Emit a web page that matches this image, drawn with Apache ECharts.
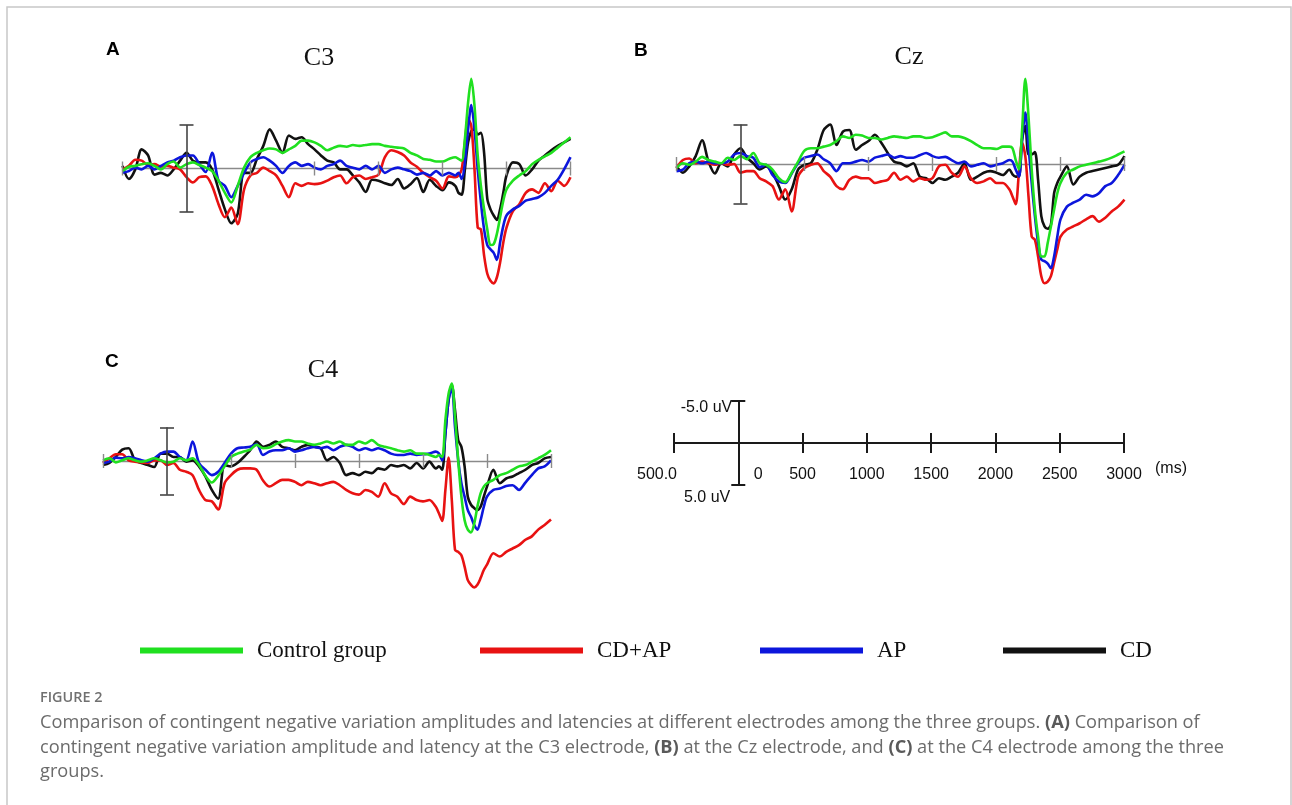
<!DOCTYPE html>
<html>
<head>
<meta charset="utf-8">
<title>CNV comparison</title>
<script src="https://cdn.jsdelivr.net/npm/echarts@6/dist/echarts.min.js"></script>
<style>
  html, body { margin: 0; padding: 0; background: #fff; }
  #main { width: 1292px; height: 805px; }
</style>
</head>
<body>
<div id="main"></div>
<script>
// time axis (ms), denser around the response spike
const times = [
  -500, -450, -400, -350, -300, -250, -200, -150, -100, -50,
  0, 50, 100, 150, 200, 250, 300, 350, 400, 450,
  500, 550, 600, 650, 700, 750, 800, 850, 900, 950,
  1000, 1050, 1100, 1150, 1200, 1250, 1300, 1350, 1400, 1450,
  1500, 1550, 1600, 1650, 1700, 1750, 1800, 1850, 1900, 1950,
  2000, 2050, 2100, 2125, 2150, 2175, 2200, 2225, 2250, 2275,
  2300, 2325, 2350, 2375, 2400, 2425, 2450, 2475, 2500, 2550,
  2600, 2650, 2700, 2750, 2800, 2850, 2900, 2950, 3000
];

const groupNames = ['Control group', 'CD+AP', 'AP', 'CD'];
const groupColors = ['#20e020', '#e81212', '#0c16dc', '#111111'];

// amplitudes in uV (negative = up)
const c3Control = [
  0.3, -0.2, -0.3, -0.5, -0.6, -0.3, 0.1, -0.5, -0.8, -0.1,
  -0.5, -0.7, -0.4, -0.1, 0.3, 1.4, 2.8, 3.9, 2.0, -0.1,
  -1.3, -1.8, -2.1, -2.3, -2.2, -1.8, -2.2, -2.6, -3.2, -3.2,
  -3.0, -2.6, -2.1, -2.4, -2.6, -2.5, -2.7, -2.6, -2.7, -2.8,
  -2.8, -2.6, -2.5, -2.4, -2.3, -1.8, -1.5, -1.1, -1.0, -0.8,
  -0.8, -1.1, -1.3, -1.1, -0.9, -3.4, -7.6, -10.3, -7.2, -1.5,
  2.0, 4.7, 7.0, 8.8, 8.7, 7.5, 5.6, 3.7, 2.4, 1.4,
  0.8, 0.3, -0.5, -1.0, -1.4, -1.8, -2.4, -3.0, -3.6
];
const c3CdAp = [
  0.1, -0.3, -1.0, -0.9, -0.4, -0.5, -0.2, -0.3, -0.1, 0.1,
  1.0, 1.6, 1.0, 0.9, 2.0, 4.1, 5.6, 4.5, 6.4, 2.4,
  0.8, 0.5, -0.1, 0.3, 0.8, 2.0, 3.3, 1.7, 2.0, 1.7,
  1.8, 1.7, 1.4, 1.0, 0.8, 1.7, 1.0, 0.8, 1.2, 1.0,
  0.7, -1.3, -2.1, -1.9, -1.5, -0.7, -0.2, 0.5, 1.0, 1.4,
  2.3, 0.9, 1.0, 0.8, 0.1, -3.0, -5.7, -4.9, 0.1, 6.8,
  7.0, 10.0, 12.1, 12.9, 13.2, 12.5, 10.8, 8.5, 6.8, 4.9,
  4.1, 2.8, 2.4, 2.8, 1.7, 2.6, 1.4, 2.0, 1.0
];
const c3Ap = [
  0.5, 0.3, -0.1, 0.1, -0.3, 0.1, -0.3, -0.7, -0.9, -1.3,
  -1.5, -1.5, -0.5, 0.4, -1.8, 1.4, 2.0, 3.3, 2.0, 0.5,
  -0.7, -1.1, -1.3, -0.9, -0.3, 0.5, -0.3, -0.7, -0.3, -0.5,
  -0.1, 0.1, -0.3, -0.5, -0.9, -0.3, -0.1, 0.1, -0.3, 0.1,
  -0.3, 0.5, 0.1, -0.1, 0.1, 0.3, 0.7, 0.5, 0.8, 0.3,
  0.8, 0.5, 0.8, 0.5, 1.2, -0.7, -4.5, -7.3, -4.5, 0.1,
  3.9, 7.0, 8.8, 9.3, 9.7, 10.5, 8.5, 6.6, 5.4, 4.7,
  4.3, 3.7, 3.5, 3.3, 2.8, 2.0, 1.3, 0.1, -1.3
];
const c3Cd = [
  -0.3, 1.2, 0.1, -2.2, -1.5, 0.7, 0.5, 0.8, 0.1, -0.9,
  -1.8, -0.9, -0.7, -0.7, 0.1, 2.4, 4.7, 6.3, 5.2, 0.5,
  0.5, -1.1, -2.6, -4.5, -3.2, -1.8, -3.8, -3.4, -3.6, -2.8,
  -2.2, -1.5, -0.9, -0.7, 0.1, 0.1, 0.8, 1.6, 2.7, 1.3,
  1.4, 1.7, 1.9, 1.2, 2.3, 1.8, 1.1, 2.7, 1.3, 2.0,
  2.5, 1.6, 2.0, 2.8, 3.0, 0.1, -3.0, -4.3, -4.5, -3.9,
  -4.1, -1.8, 3.5, 4.7, 5.4, 5.9, 4.7, 2.8, 0.8, -0.7,
  -0.5, 0.8, 0.1, -0.9, -1.5, -2.1, -2.6, -3.0, -3.4
];

const czControl = [
  0.5, -0.1, 0.1, -0.3, -0.9, -0.5, -0.3, -0.1, -0.8, -0.5,
  -1.0, -0.6, -1.4, -0.1, 0.1, 0.7, 1.8, 2.3, 1.1, -0.3,
  -1.7, -2.0, -2.0, -2.2, -2.4, -2.9, -3.5, -3.3, -3.7, -3.6,
  -3.3, -3.3, -3.1, -3.3, -3.5, -3.4, -3.3, -3.5, -3.5, -3.3,
  -3.4, -3.7, -4.0, -3.5, -3.5, -3.3, -2.9, -2.4, -2.0, -2.0,
  -1.9, -2.2, -2.2, -2.0, -0.5, 0.7, -4.3, -10.8, -6.0, 0.7,
  5.8, 9.2, 11.7, 11.7, 10.0, 7.9, 5.8, 3.7, 2.4, 1.1,
  0.7, 0.3, 0.1, -0.1, -0.3, -0.5, -0.8, -1.2, -1.6
];
const czCdAp = [
  0.5, -0.5, -0.7, -0.1, -0.3, -0.1, 0.1, -0.1, 0.1, 0.0,
  1.1, 0.9, 0.9, 1.8, 2.2, 2.8, 4.5, 3.2, 6.0, 1.6,
  0.5, 0.1, -0.1, 0.9, 1.6, 2.8, 3.2, 2.0, 1.6, 1.8,
  1.8, 2.4, 2.2, 2.0, 1.1, 2.0, 1.6, 2.2, 1.8, 2.0,
  1.8, 0.3, 0.1, 1.1, 1.6, 0.3, 1.8, 2.4, 2.2, 1.8,
  2.4, 2.4, 3.2, 4.1, 5.1, 1.1, -2.7, -1.0, 4.1, 9.2,
  9.6, 11.7, 14.2, 15.1, 14.9, 14.2, 12.5, 10.8, 9.2, 8.3,
  7.9, 7.5, 7.0, 6.6, 7.3, 6.8, 6.0, 5.4, 4.5
];
const czAp = [
  0.9, 0.7, -0.1, -0.3, -0.1, -0.3, -0.1, -0.1, -0.3, -1.2,
  -1.4, -1.0, -0.8, 0.4, 0.1, 1.4, 2.2, 2.4, 1.2, -0.1,
  -0.8, -1.0, -1.2, -0.6, -0.1, 0.9, -0.1, -0.1, -0.3, -0.5,
  -0.3, -0.8, -1.0, -1.2, -0.8, -1.0, -0.8, -0.8, -1.1, -1.4,
  -1.0, -0.8, -0.9, -0.5, -0.1, -0.3, 0.3, 0.1, -0.1, 0.3,
  0.1, -0.1, -0.5, -0.3, 0.7, 1.6, -3.1, -6.5, -2.2, 2.4,
  6.6, 10.0, 12.1, 12.3, 12.6, 13.2, 11.7, 9.2, 7.0, 5.4,
  4.9, 4.5, 3.9, 4.1, 3.7, 2.8, 2.4, 1.4, 0.1
];
const czCd = [
  0.3, 1.1, 0.3, -1.0, -3.0, -0.3, 1.2, -0.1, 0.3, -1.2,
  -2.0, -0.8, -0.1, 0.7, 0.3, 1.1, 2.8, 4.5, 3.2, 0.7,
  0.1, -0.1, -1.8, -4.3, -5.0, -2.4, -4.1, -4.3, -1.8, -2.4,
  -2.9, -3.7, -2.7, -1.4, -0.3, -0.1, 0.3, -0.1, 1.6, 1.8,
  2.4, 1.8, 2.0, 1.6, 1.1, -0.1, 2.0, 1.6, 1.1, 0.9,
  1.1, 1.4, 0.7, 1.3, 1.6, 1.6, -3.1, -4.8, -1.2, -1.2,
  -1.5, 2.0, 6.6, 7.9, 8.2, 7.7, 3.7, 2.4, 1.6, 0.3,
  2.6, 1.6, 1.1, 0.9, 0.7, 0.5, 0.3, 0.1, -1.0
];

const c4Control = [
  -0.1, -0.4, 0.2, -0.1, -0.4, -0.1, 0.1, -0.1, -0.4, -0.1,
  0.2, 0.1, -0.4, -0.1, -0.4, 0.6, 2.2, 3.2, 2.2, 0.8,
  -0.6, -1.1, -1.4, -1.7, -2.4, -1.9, -2.0, -2.5, -2.9, -3.1,
  -2.9, -2.9, -2.6, -2.4, -2.6, -2.9, -2.6, -2.9, -2.4, -2.4,
  -2.9, -2.6, -3.1, -2.4, -2.1, -1.9, -1.6, -1.4, -1.6, -1.1,
  -1.1, -0.9, -0.6, -0.9, -0.6, -6.1, -10.0, -11.5, -6.6, -0.1,
  5.3, 8.8, 10.2, 10.6, 9.3, 6.8, 4.8, 3.8, 3.3, 2.8,
  2.1, 1.8, 1.3, 0.8, 0.6, 0.1, -0.4, -0.9, -1.6
];
const c4CdAp = [
  0.3, -0.4, -1.0, -1.0, -0.1, 0.1, 0.2, 0.3, -0.1, -0.1,
  0.6, 0.3, 1.3, 1.6, 2.1, 4.3, 5.8, 6.0, 7.2, 3.3,
  2.1, 1.3, 1.1, 1.1, 1.3, 2.9, 3.8, 3.3, 2.8, 2.8,
  3.1, 3.6, 3.1, 3.3, 3.6, 3.3, 3.1, 3.6, 4.3, 4.8,
  5.0, 4.3, 4.6, 5.3, 3.3, 4.8, 5.3, 6.4, 5.3, 5.8,
  6.0, 5.8, 6.8, 7.8, 8.9, 4.3, -0.5, 5.8, 13.2, 13.5,
  14.0, 15.7, 17.7, 18.4, 18.8, 18.4, 17.4, 16.2, 15.4, 13.7,
  14.2, 13.5, 13.0, 12.5, 11.7, 11.2, 10.2, 9.5, 8.7
];
const c4Ap = [
  0.3, 0.1, -0.5, -0.4, -0.6, -0.4, -0.1, 0.1, -0.4, -1.1,
  -1.4, -1.4, -0.6, -0.1, -2.9, 0.3, 1.3, 2.1, 1.6, 0.3,
  -1.1, -1.9, -2.0, -2.1, -2.5, -0.9, -1.4, -1.6, -1.6, -1.9,
  -1.4, -1.6, -1.9, -2.1, -1.9, -2.1, -1.6, -2.1, -2.4, -2.1,
  -1.6, -1.9, -1.6, -1.9, -1.6, -1.1, -0.9, -0.9, -1.1, -0.9,
  -1.0, -1.1, -1.4, -1.1, -0.1, -4.1, -9.1, -10.9, -5.1, -0.1,
  3.3, 5.3, 7.3, 8.3, 9.5, 10.2, 8.8, 6.8, 5.3, 4.3,
  4.1, 3.7, 3.6, 4.3, 3.2, 2.1, 1.1, 0.8, -0.1
];
const c4Cd = [
  0.6, 0.3, -0.6, -1.7, -1.9, -0.1, 0.3, 0.6, 0.9, -1.1,
  -1.1, -0.6, -0.6, 0.1, -0.1, 0.8, 2.3, 4.3, 5.6, 0.6,
  0.8, 0.3, -0.6, -1.6, -2.9, -2.1, -2.4, -2.9, -2.1, -1.9,
  -1.6, -2.1, -2.4, -2.1, -1.9, -0.1, -0.6, 0.3, 2.1, 1.8,
  2.1, 1.6, 1.8, 1.1, 1.3, 0.6, 0.8, 0.6, 1.1, 0.3,
  1.1, 0.1, 1.1, 0.8, 1.3, -4.1, -9.1, -11.3, -7.6, -3.1,
  -2.1, 0.8, 5.3, 6.5, 7.0, 7.3, 6.8, 5.3, 3.8, 1.3,
  3.3, 2.6, 2.3, 1.8, 1.3, 0.6, 0.3, -0.4, -0.6
];

// scale panel
const scaleTicks = [-500, 0, 500, 1000, 1500, 2000, 2500, 3000];
const scaleTickLabels = ['500.0', '0', '500', '1000', '1500', '2000', '2500', '3000'];
const panelTickTimes = [-500, 500, 1000, 1500, 2000, 2500, 3000];

// layout of the three electrode panels + the scale panel
const panels = [
  { title: 'C3', letter: 'A', left: 122.5, zeroY: 168.5, ppu: 8.7, min: -12, max: 14,
    titleX: 319, titleY: 58, letterX: 106, letterY: 50,
    data: [c3Control, c3CdAp, c3Ap, c3Cd] },
  { title: 'Cz', letter: 'B', left: 676.5, zeroY: 164, ppu: 7.9, min: -12, max: 16,
    titleX: 909, titleY: 57, letterX: 634, letterY: 51,
    data: [czControl, czCdAp, czAp, czCd] },
  { title: 'C4', letter: 'C', left: 103, zeroY: 461, ppu: 6.73, min: -13, max: 20,
    titleX: 323, titleY: 370, letterX: 105, letterY: 362,
    data: [c4Control, c4CdAp, c4Ap, c4Cd] }
];
const scalePanel = { left: 674, width: 450, zeroY: 443, ppu: 8.4, min: -6, max: 6 };
const panelWidth = 448;

const chart = echarts.init(document.getElementById('main'));

function seg(a, b, style) {
  return [{ coord: a, lineStyle: style }, { coord: b }];
}

function frameLines(ppu, width, tickPx, capPx, barStyle, tickStyle, ticks) {
  const capMs = capPx * 3500 / width;
  const tickU = tickPx / ppu;
  const lines = [
    seg([0, -5], [0, 5], barStyle),
    seg([-capMs, -5], [capMs, -5], barStyle),
    seg([-capMs, 5], [capMs, 5], barStyle)
  ];
  ticks.forEach(t => lines.push(seg([t, -tickU], [t, tickU], tickStyle)));
  return lines;
}

const grids = [], xAxes = [], yAxes = [], series = [];
panels.forEach((p, i) => {
  grids.push({
    left: p.left, width: panelWidth,
    top: p.zeroY + p.min * p.ppu, height: (p.max - p.min) * p.ppu,
    containLabel: false, outerBoundsMode: 'none'
  });
  xAxes.push({
    gridIndex: i, type: 'value', min: -500, max: 3000,
    axisLine: { show: true, onZero: true, lineStyle: { color: '#8a8a8a', width: 1.4 } },
    axisTick: { show: false }, axisLabel: { show: false }, splitLine: { show: false }
  });
  yAxes.push({ gridIndex: i, type: 'value', min: p.min, max: p.max, inverse: true, show: false });
  series.push({
    type: 'line', name: 'frame', xAxisIndex: i, yAxisIndex: i, data: [], silent: true,
    markLine: {
      silent: true, symbol: ['none', 'none'], label: { show: false }, animation: false,
      emphasis: { disabled: true },
      lineStyle: { type: 'solid', color: '#555', width: 1.5 },
      data: frameLines(p.ppu, panelWidth, 7, 7,
        { type: 'solid', color: '#444', width: 1.6 },
        { type: 'solid', color: '#8a8a8a', width: 1.4 }, panelTickTimes)
    }
  });
  // draw order: CD, CD+AP, AP, Control on top
  [3, 1, 2, 0].forEach(g => {
    series.push({
      type: 'line', name: groupNames[g], xAxisIndex: i, yAxisIndex: i,
      data: times.map((t, k) => [t, p.data[g][k]]),
      showSymbol: false, symbol: 'none', smooth: 0.3,
      color: groupColors[g],
      itemStyle: { color: groupColors[g] },
      lineStyle: { color: groupColors[g], width: 2.6 },
      emphasis: { disabled: true }
    });
  });
});

// scale panel
const sp = scalePanel;
grids.push({
  left: sp.left, width: sp.width,
  top: sp.zeroY + sp.min * sp.ppu, height: (sp.max - sp.min) * sp.ppu,
  containLabel: false, outerBoundsMode: 'none'
});
xAxes.push({
  gridIndex: 3, type: 'value', min: -500, max: 3000, interval: 500,
  axisLine: { show: true, onZero: true, lineStyle: { color: '#1a1a1a', width: 2 } },
  axisTick: { show: false }, splitLine: { show: false },
  axisLabel: {
    // labels sit at the grid bottom; pull them up to just under the zero line
    margin: 24 - sp.max * sp.ppu, color: '#111', fontFamily: 'Liberation Sans', fontSize: 16,
    formatter: v => {
      const lab = scaleTickLabels[scaleTicks.indexOf(v)];
      if (v === -500) return '{l|' + lab + '}';
      if (v === 0) return '{r|' + lab + '}';
      return '{c|' + lab + '}';
    },
    rich: {
      l: { fontFamily: 'Liberation Sans', fontSize: 16, color: '#111', padding: [0, 34, 0, 0] },
      r: { fontFamily: 'Liberation Sans', fontSize: 16, color: '#111', padding: [0, 0, 0, 40] },
      c: { fontFamily: 'Liberation Sans', fontSize: 16, color: '#111' }
    }
  }
});
yAxes.push({ gridIndex: 3, type: 'value', min: sp.min, max: sp.max, inverse: true, show: false });
series.push({
  type: 'line', name: 'frame', xAxisIndex: 3, yAxisIndex: 3, data: [], silent: true,
  markLine: {
    silent: true, symbol: ['none', 'none'], label: { show: false }, animation: false,
    emphasis: { disabled: true },
    lineStyle: { type: 'solid', color: '#1a1a1a', width: 2 },
    data: frameLines(sp.ppu, sp.width, 10, 7,
      { type: 'solid', color: '#1a1a1a', width: 2 },
      { type: 'solid', color: '#1a1a1a', width: 2 }, panelTickTimes)
  }
});

const legendLeft = [140, 480, 760, 1003];

chart.setOption({
  animation: false,
  backgroundColor: '#fff',
  grid: grids,
  xAxis: xAxes,
  yAxis: yAxes,
  legend: groupNames.map((n, i) => ({
    data: [n], left: legendLeft[i], top: 639, icon: 'rect',
    itemWidth: 103, itemHeight: 6, selectedMode: false, padding: 0,
    textStyle: { fontFamily: 'Liberation Serif', fontSize: 23, color: '#111', padding: [0, 0, 0, 9] }
  })),
  series: series
});

// text and frame
const graphics = [
  { type: 'rect', silent: true, shape: { x: 7, y: 7, width: 1284, height: 840 },
    style: { fill: 'none', stroke: '#c8c8c8', lineWidth: 1.5 } }
];
panels.forEach(p => {
  graphics.push({ type: 'text', x: p.titleX, y: p.titleY, silent: true,
    style: { text: p.title, fontFamily: 'Liberation Serif', fontSize: 26, fill: '#111',
      align: 'center', verticalAlign: 'middle' } });
  graphics.push({ type: 'text', x: p.letterX, y: p.letterY, silent: true,
    style: { text: p.letter, fontFamily: 'Liberation Sans', fontWeight: 'bold', fontSize: 19,
      fill: '#000', align: 'left', verticalAlign: 'middle' } });
});
const top5 = chart.convertToPixel({ gridIndex: 3 }, [0, -5]);
const bot5 = chart.convertToPixel({ gridIndex: 3 }, [0, 5]);
const end0 = chart.convertToPixel({ gridIndex: 3 }, [3000, 0]);
graphics.push({ type: 'text', x: top5[0] - 6, y: top5[1] + 7, silent: true,
  style: { text: '-5.0 uV', fontFamily: 'Liberation Sans', fontSize: 16, fill: '#111',
    align: 'right', verticalAlign: 'middle' } });
graphics.push({ type: 'text', x: bot5[0] - 8, y: bot5[1] + 13, silent: true,
  style: { text: '5.0 uV', fontFamily: 'Liberation Sans', fontSize: 16, fill: '#111',
    align: 'right', verticalAlign: 'middle' } });
graphics.push({ type: 'text', x: end0[0] + 31, y: end0[1] + 26, silent: true,
  style: { text: '(ms)', fontFamily: 'Liberation Sans', fontSize: 16, fill: '#111',
    align: 'left', verticalAlign: 'middle' } });

const capFont = { fontFamily: 'Open Sans', fontSize: 18.2, fill: '#6b6b6b' };
const capBold = { fontFamily: 'Open Sans', fontSize: 18.2, fill: '#5a5a5a', fontWeight: 'bold' };
const captionLines = [
  'Comparison of contingent negative variation amplitudes and latencies at different electrodes among the three groups. {b|(A)} Comparison of',
  'contingent negative variation amplitude and latency at the C3 electrode, {b|(B)} at the Cz electrode, and {b|(C)} at the C4 electrode among the three',
  'groups.'
];
graphics.push({ type: 'text', x: 40, y: 698, silent: true,
  style: { text: 'FIGURE 2', fontFamily: 'Open Sans', fontSize: 14.4, fontWeight: 600, fill: '#707070',
    align: 'left', verticalAlign: 'middle' } });
captionLines.forEach((t, i) => {
  graphics.push({ type: 'text', x: 40, y: 723 + i * 24.5, silent: true,
    style: Object.assign({ text: t, align: 'left', verticalAlign: 'middle', rich: { b: capBold } }, capFont) });
});

chart.setOption({ graphic: graphics });
</script>
</body>
</html>
